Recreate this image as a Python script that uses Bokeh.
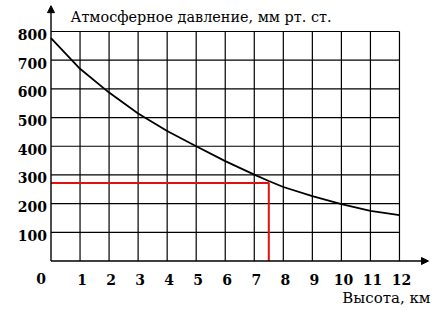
from bokeh.plotting import figure
from bokeh.models import Range1d, Arrow, NormalHead
from bokeh.core.properties import value
from bokeh.embed import file_html
from bokeh.resources import INLINE

# Data
heights = [0, 1, 2, 3, 4, 5, 6, 7, 7.5, 8, 9, 10, 11, 12]
pressure = [777, 670, 587, 514, 453, 400, 348, 301, 279, 258, 226, 198, 175, 160]
x_ticks = [1, 2, 3, 4, 5, 6, 7, 8, 9, 10, 11, 12]
x_tick_labels = ["1", "2", "3", "4", "5", "6", "7", "8", "9", "10", "11", "12"]
y_ticks = [100, 200, 300, 400, 500, 600, 700, 800]
y_tick_labels = ["100", "200", "300", "400", "500", "600", "700", "800"]
marked_height = 7.5
marked_pressure = 272
title_text = "Атмосферное давление, мм рт. ст."
x_label = "Высота, км"
origin_label = "0"

x_max = max(x_ticks)
y_max = max(y_ticks)

p = figure(width=443, height=310, output_backend="svg", toolbar_location=None,
           title=None,
           x_range=Range1d(-1.739, 13.516), y_range=Range1d(-172.5, 908.0),
           min_border=0)
p.outline_line_color = None
p.grid.visible = False
p.axis.visible = False
p.background_fill_color = "white"
p.border_fill_color = "white"

FONT = value("DejaVu Serif")

# grid
p.segment(x0=x_ticks, y0=[0] * len(x_ticks), x1=x_ticks, y1=[y_max] * len(x_ticks),
          line_color="black", line_width=1.2)
p.segment(x0=[0] * len(y_ticks), y0=y_ticks, x1=[x_max] * len(y_ticks), y1=y_ticks,
          line_color="black", line_width=1.2)

# axes with arrows
p.add_layout(Arrow(x_start=0, y_start=0, x_end=13.0, y_end=0, line_width=1.4,
                   line_color="black",
                   end=NormalHead(size=7, fill_color="black", line_color="black")))
p.add_layout(Arrow(x_start=0, y_start=0, x_end=0, y_end=890, line_width=1.4,
                   line_color="black",
                   end=NormalHead(size=7, fill_color="black", line_color="black")))

# red guide lines
p.line([0, marked_height, marked_height], [marked_pressure, marked_pressure, 0],
       line_color="#e01010", line_width=2)

# curve
p.line(heights, pressure, line_color="black", line_width=1.8)

# tick labels
p.text(x=[0] * len(y_ticks), y=y_ticks, text=y_tick_labels, x_offset=-4, y_offset=3,
       text_font=FONT, text_font_style="bold", text_font_size="14px",
       text_align="right", text_baseline="middle", text_color="black")
p.text(x=x_ticks, y=[0] * len(x_ticks), text=x_tick_labels, x_offset=2, y_offset=18.5,
       text_font=FONT, text_font_style="bold", text_font_size="14px",
       text_align="center", text_baseline="middle", text_color="black")
p.text(x=[0], y=[0], text=[origin_label], x_offset=-10, y_offset=17,
       text_font=FONT, text_font_style="bold", text_font_size="14px",
       text_align="center", text_baseline="middle", text_color="black")

# titles
p.text(x=[0], y=[y_max], text=[title_text], x_offset=19.5, y_offset=-14,
       text_font=FONT, text_font_size="14.4px", text_baseline="middle",
       text_align="left", text_color="black")
p.text(x=[x_max], y=[0], text=[x_label], x_offset=31, y_offset=36.5,
       text_font=FONT, text_font_size="15px", text_baseline="middle",
       text_align="right", text_color="black")

open("out.html", "w").write(file_html(p, INLINE))
